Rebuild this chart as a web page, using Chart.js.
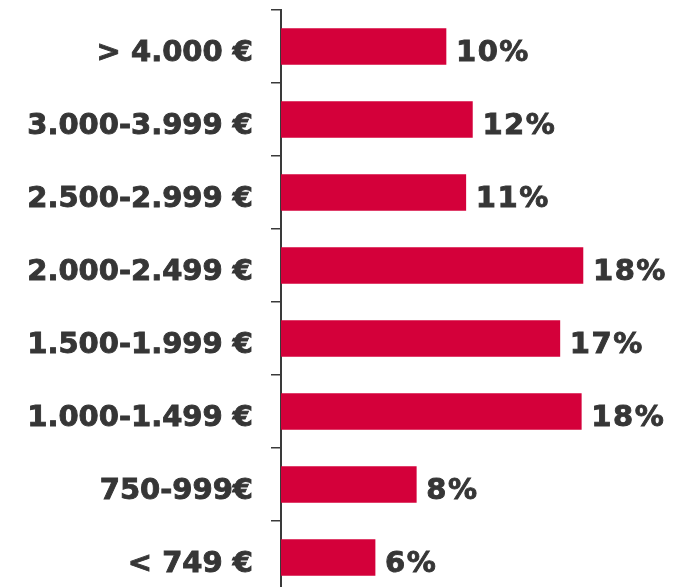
<!DOCTYPE html>
<html>
<head>
<meta charset="utf-8">
<script src="https://cdn.jsdelivr.net/npm/chart.js@4"></script>
<style>
  html, body { margin: 0; padding: 0; background: #fff; overflow: hidden; }
  #wrap { width: 677px; height: 594px; position: relative; }
</style>
</head>
<body>
<div id="wrap"><canvas id="incomeChart"></canvas></div>
<script>
// Tramos de ingresos (de arriba abajo) y porcentaje de cada uno
const categories = ["> 4.000 €", "3.000-3.999 €", "2.500-2.999 €", "2.000-2.499 €",
                    "1.500-1.999 €", "1.000-1.499 €", "750-999€", "< 749 €"];
const shares = [10.0, 11.6, 11.2, 18.3, 16.9, 18.2, 8.2, 5.7];
const shareLabels = ["10%", "12%", "11%", "18%", "17%", "18%", "8%", "6%"];

const textColor = "#363636";
const labelFont = "bold 29px 'DejaVu Sans', Verdana, sans-serif";

// dibuja texto algo más grueso (tipo Verdana Bold)
function heavyText(ctx, txt, x, y) {
    ctx.fillText(txt, x, y);
    ctx.strokeText(txt, x, y);
}

// etiquetas: categorías a la izquierda del eje y valores tras cada barra
const textLabels = {
    id: "textLabels",
    afterDatasetsDraw(chart) {
        const ctx = chart.ctx;
        const meta = chart.getDatasetMeta(0);
        const yScale = chart.scales.y;
        ctx.save();
        ctx.font = labelFont;
        ctx.fillStyle = textColor;
        ctx.strokeStyle = textColor;
        ctx.lineWidth = 0.9;
        ctx.textBaseline = "alphabetic";

        ctx.textAlign = "right";
        categories.forEach((c, i) => {
            heavyText(ctx, c, 253, yScale.getPixelForTick(i) + 14);
        });

        ctx.textAlign = "left";
        ctx.letterSpacing = "1.5px";
        meta.data.forEach((bar, i) => {
            heavyText(ctx, shareLabels[i], bar.x + 10, bar.y + 14);
        });
        ctx.restore();
    }
};

new Chart(document.getElementById("incomeChart"), {
    type: "bar",
    data: {
        labels: categories,
        datasets: [{
            data: shares,
            backgroundColor: "#d4003a",
            borderWidth: 0,
            barThickness: 36
        }]
    },
    options: {
        indexAxis: "y",
        responsive: true,
        maintainAspectRatio: false,
        animation: false,
        layout: { padding: { top: 10, right: 0, bottom: 0, left: 0 } },
        plugins: {
            legend: { display: false },
            tooltip: { enabled: false }
        },
        scales: {
            x: {
                display: false,
                min: 0,
                max: 24
            },
            y: {
                afterFit: scale => {
                    scale.width = 281;
                    scale.paddingTop = 0;
                    scale.paddingBottom = 0;
                },
                border: { display: true, color: "#3a3a3a", width: 2 },
                grid: {
                    offset: true,
                    drawOnChartArea: false,
                    drawTicks: true,
                    tickLength: 10,
                    color: "#3a3a3a",
                    lineWidth: 1.5
                },
                ticks: { display: false }
            }
        }
    },
    plugins: [textLabels]
});
</script>
</body>
</html>
